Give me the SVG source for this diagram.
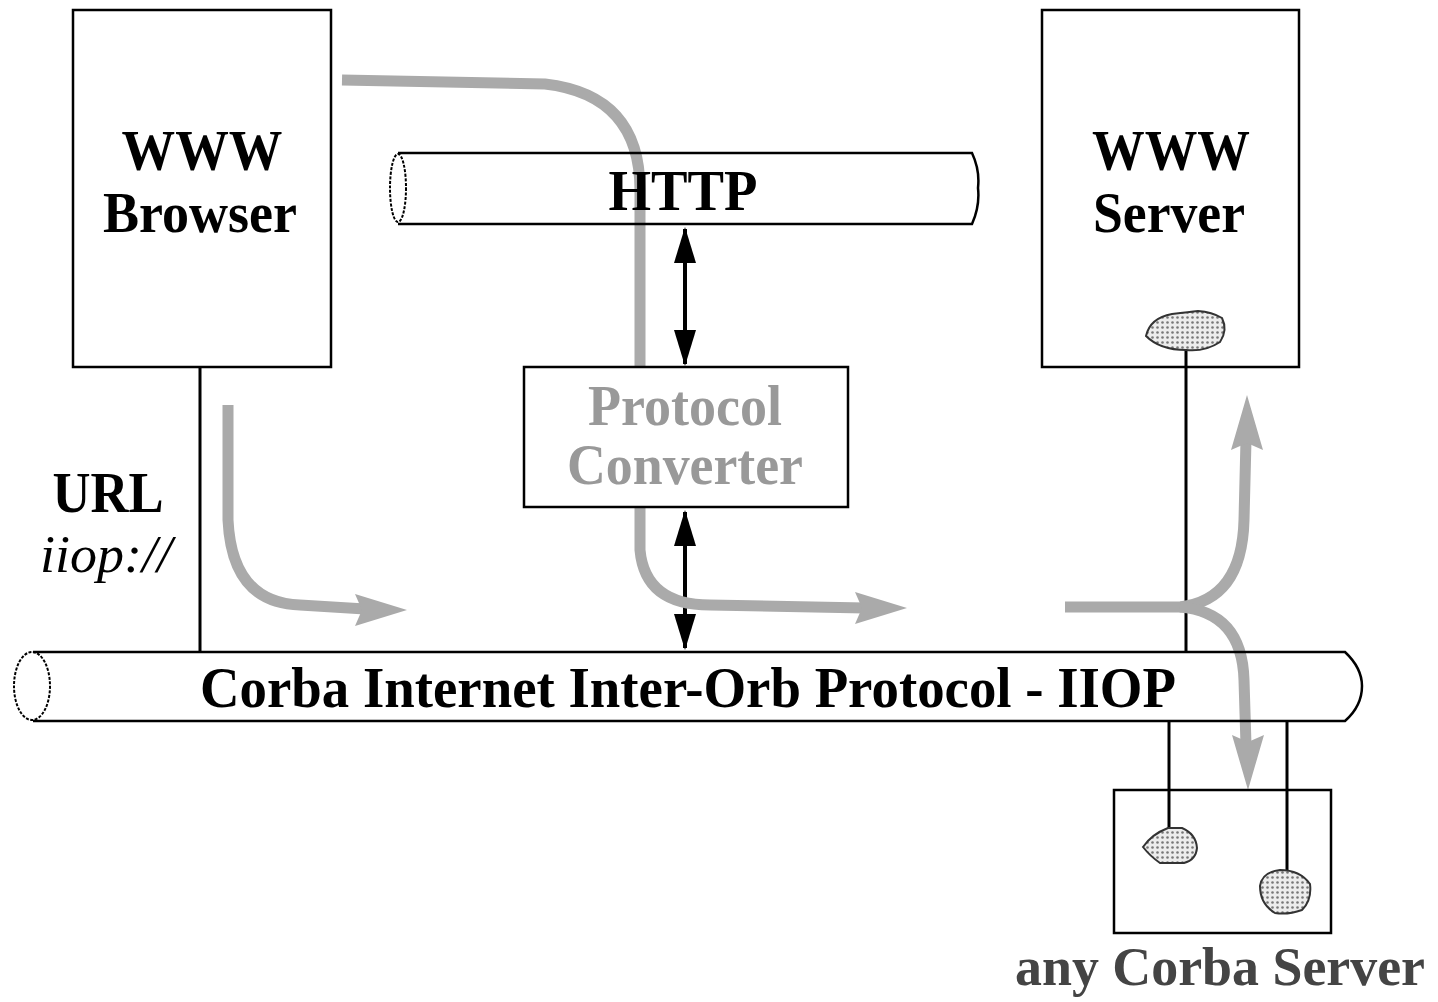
<svg xmlns="http://www.w3.org/2000/svg" width="1438" height="1002" viewBox="0 0 1438 1002">
<defs>
<pattern id="dots" width="5" height="5" patternUnits="userSpaceOnUse">
<rect width="5" height="5" fill="#ececec"/>
<circle cx="2.5" cy="2.5" r="1.3" fill="#777"/>
</pattern>
<marker id="bh" viewBox="0 0 36 22" refX="34" refY="11" markerWidth="36" markerHeight="22" markerUnits="userSpaceOnUse" orient="auto-start-reverse">
<path d="M0,0 L36,11 L0,22 Z" fill="#000"/>
</marker>
</defs>
<style>
.box{fill:#fff;stroke:#000;stroke-width:2.5}
.ln{stroke:#000;stroke-width:3;fill:none}
.pipe{fill:none;stroke:#000;stroke-width:2.5}
.cap{fill:none;stroke:#000;stroke-width:2;stroke-dasharray:3 1.5}
.t{font-family:"Liberation Serif","Times New Roman",serif;font-weight:bold;font-size:58px;fill:#000;text-anchor:middle}
.gray{fill:#999}
.flow{fill:none;stroke:#aaa;stroke-width:11}
.gh{fill:#aaa}
.blob{fill:url(#dots);stroke:#333;stroke-width:2}
</style>

<g id="connectors">
<line class="ln" x1="200" y1="367" x2="200" y2="653"/>
<line class="ln" x1="1186" y1="345" x2="1186" y2="653"/>
<line class="ln" x1="1169" y1="720" x2="1169" y2="830"/>
<line class="ln" x1="1287" y1="720" x2="1287" y2="872"/>
<line x1="685" y1="229" x2="685" y2="364" stroke="#000" stroke-width="4" marker-start="url(#bh)" marker-end="url(#bh)"/>
<line x1="685" y1="512" x2="685" y2="648" stroke="#000" stroke-width="4" marker-start="url(#bh)" marker-end="url(#bh)"/>
<path class="flow" d="M342,80 L545,84 Q640,95 640,190 L640,370"/>
<path class="flow" d="M640,505 L640,550 Q645,605 710,605 L865,608"/>
<polygon class="gh" points="907,608 855,592 862,608 855,624"/>
<path class="flow" d="M228,405 L228,520 Q232,603 300,605 L365,609"/>
<polygon class="gh" points="407,610 355,594 362,610 355,626"/>
<path class="flow" d="M1065,607 L1180,607 Q1242,600 1244,520 L1246,440"/>
<polygon class="gh" points="1247,395 1231,450 1247,443 1263,450"/>
<path class="flow" d="M1180,607 Q1242,612 1244,680 L1246,745"/>
<polygon class="gh" points="1248,790 1232,735 1248,742 1264,735"/>
</g>

<g id="browser">
<rect class="box" x="73" y="10" width="258" height="357" style="fill:none"/>
<text class="t" x="202" y="170" textLength="161" lengthAdjust="spacingAndGlyphs">WWW</text>
<text class="t" x="200" y="232" textLength="194" lengthAdjust="spacingAndGlyphs">Browser</text>
</g>

<g id="server">
<rect class="box" x="1042" y="10" width="257" height="357" style="fill:none"/>
<text class="t" x="1171" y="170" textLength="158" lengthAdjust="spacingAndGlyphs">WWW</text>
<text class="t" x="1169" y="232" textLength="152" lengthAdjust="spacingAndGlyphs">Server</text>
<path class="blob" d="M1146,336 Q1150,318 1172,314 Q1190,312 1198,311 Q1212,312 1222,318 Q1228,330 1220,342 Q1205,352 1186,350 Q1160,350 1146,336 Z"/>
</g>

<g id="http">
<path class="pipe" d="M398,153 L972,153 Q980,170 978,188 Q980,206 972,224 L398,224"/>
<ellipse class="cap" cx="398" cy="188" rx="8" ry="34"/>
<text class="t" x="683" y="210" textLength="149" lengthAdjust="spacingAndGlyphs">HTTP</text>
</g>

<g id="converter">
<rect class="box" x="524" y="367" width="324" height="140"/>
<text class="t gray" x="685" y="425" textLength="194" lengthAdjust="spacingAndGlyphs">Protocol</text>
<text class="t gray" x="685" y="484" textLength="236" lengthAdjust="spacingAndGlyphs">Converter</text>
</g>

<g id="iiop">
<path class="pipe" d="M33,652 L1345,652 Q1362,668 1362,686 Q1362,706 1345,721 L33,721"/>
<ellipse class="cap" cx="32" cy="686" rx="18" ry="34"/>
<text class="t" x="688" y="707" textLength="976" lengthAdjust="spacingAndGlyphs">Corba Internet Inter-Orb Protocol - IIOP</text>
</g>

<g id="url">
<text class="t" x="108" y="512" textLength="111" lengthAdjust="spacingAndGlyphs" style="font-size:56px">URL</text>
<text class="t" x="106" y="572" textLength="132" lengthAdjust="spacingAndGlyphs" style="font-size:52px;font-weight:normal;font-style:italic">iiop://</text>
</g>

<g id="corba-server">
<rect class="box" x="1114" y="790" width="217" height="143" style="fill:none"/>
<path class="blob" d="M1143,847 Q1152,834 1168,828 L1182,828 Q1196,834 1197,848 Q1196,860 1184,863 L1160,863 Q1150,856 1143,847 Z"/>
<path class="blob" d="M1260,886 Q1262,872 1280,870 Q1300,870 1310,884 Q1312,900 1302,910 Q1288,915 1275,913 Q1260,904 1260,886 Z"/>
<text class="t" x="1220" y="985" textLength="410" lengthAdjust="spacingAndGlyphs" style="fill:#444;font-size:54px">any Corba Server</text>
</g>
</svg>
